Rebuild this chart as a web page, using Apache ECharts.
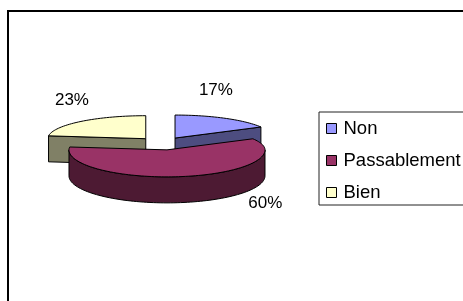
<!DOCTYPE html>
<html>
<head>
<meta charset="utf-8">
<script src="https://cdn.jsdelivr.net/npm/echarts@6/dist/echarts.min.js"></script>
<style>
html, body { margin: 0; padding: 0; background: #fff; }
#chart { width: 463px; height: 301px; }
</style>
</head>
<body>
<div id="chart"></div>
<script>
// données
const categories = ['Non', 'Passablement', 'Bien'];
const values = [17, 60, 23];

// couleurs (face du dessus / côté)
const topColors = ['#9999FF', '#993366', '#FFFFCC'];
const sideColors = ['#4D4D80', '#4D1A33', '#808066'];

// géométrie du camembert 3D éclaté
const CX = 162.3, CY = 143.1;
const RX = 98, RY_BACK = 23, RY_FRONT = 27, DEPTH = 26, EXPLODE = 25;
const labelNudge = [[-9, -28], [80, 1], [-9, -21]];

const total = values.reduce((s, v) => s + v, 0);
const starts = values.map((v, i) => values.slice(0, i).reduce((s, x) => s + x, 0));

function ry(t) { return Math.cos(t) >= 0 ? RY_BACK : RY_FRONT; }
function rim(vx, vy, t, dz) { return [vx + RX * Math.sin(t), vy - ry(t) * Math.cos(t) + dz]; }
function arc(vx, vy, a, b, dz) {
    const n = Math.max(2, Math.ceil((b - a) / (Math.PI / 90)));
    const pts = [];
    for (let k = 0; k <= n; k++) pts.push(rim(vx, vy, a + (b - a) * k / n, dz));
    return pts;
}

function renderSlice(idx) {
    return function (params, api) {
        const a = api.value(0) / total * 2 * Math.PI;
        const b = (api.value(0) + api.value(1)) / total * 2 * Math.PI;
        const mid = (a + b) / 2;
        const vx = CX + EXPLODE * Math.sin(mid);
        const vy = CY - EXPLODE * Math.cos(mid) * ry(mid) / RX;
        const children = [];
        const wall = { fill: sideColors[idx], stroke: '#000', lineWidth: 1 };
        // côtés radiaux visibles
        [[a, Math.sin(a) < 0], [b, Math.sin(b) > 0]].forEach(([t, vis]) => {
            if (!vis) return;
            const p = rim(vx, vy, t, 0);
            children.push({
                type: 'polygon',
                shape: { points: [[vx, vy], p, [p[0], p[1] + DEPTH], [vx, vy + DEPTH]] },
                style: wall
            });
        });
        // bord extérieur (partie avant)
        const lo = Math.max(a, Math.PI / 2), hi = Math.min(b, 1.5 * Math.PI);
        if (hi > lo) {
            const pts = arc(vx, vy, lo, hi, 0).concat(arc(vx, vy, lo, hi, DEPTH).reverse());
            children.push({ type: 'polygon', shape: { points: pts }, style: wall });
        }
        // dessus
        children.push({
            type: 'polygon',
            shape: { points: [[vx, vy]].concat(arc(vx, vy, a, b, 0)) },
            style: { fill: topColors[idx], stroke: '#000', lineWidth: 1 }
        });
        // étiquette
        const lp = rim(vx, vy, mid, Math.cos(mid) < 0 ? DEPTH : 0);
        children.push({
            type: 'text',
            x: lp[0] + labelNudge[idx][0],
            y: lp[1] + labelNudge[idx][1],
            style: {
                text: Math.round(api.value(1) / total * 100) + '%',
                fill: '#000',
                font: '17px "Liberation Sans", Arial, sans-serif',
                align: 'center',
                verticalAlign: 'middle'
            }
        });
        return { type: 'group', children: children };
    };
}

const series = categories.map((name, i) => {
    const mid = (starts[i] + values[i] / 2) / total * 2 * Math.PI;
    return {
        name: name,
        type: 'custom',
        coordinateSystem: 'none',
        z: 2 + Math.round((1 - Math.cos(mid)) * 2),
        itemStyle: { color: topColors[i] },
        renderItem: renderSlice(i),
        data: [[starts[i], values[i]]]
    };
});

const chart = echarts.init(document.getElementById('chart'));
chart.setOption({
    animation: false,
    backgroundColor: '#fff',
    graphic: [{
        type: 'rect',
        shape: { x: 8, y: 11, width: 600, height: 400 },
        style: { fill: 'none', stroke: '#000', lineWidth: 2 },
        z: 0
    }],
    legend: {
        orient: 'vertical',
        left: 319,
        top: 112,
        padding: [7, 8, 3, 7],
        itemWidth: 10,
        itemHeight: 10,
        itemGap: 13,
        icon: 'rect',
        borderColor: '#222',
        borderWidth: 1,
        itemStyle: { borderColor: '#000', borderWidth: 1 },
        textStyle: {
            fontSize: 18.5,
            fontFamily: '"Liberation Sans", Arial, sans-serif',
            color: '#000',
            lineHeight: 18,
            padding: [0, 0, 0, 2]
        },
        data: categories
    },
    series: series
});
</script>
</body>
</html>
